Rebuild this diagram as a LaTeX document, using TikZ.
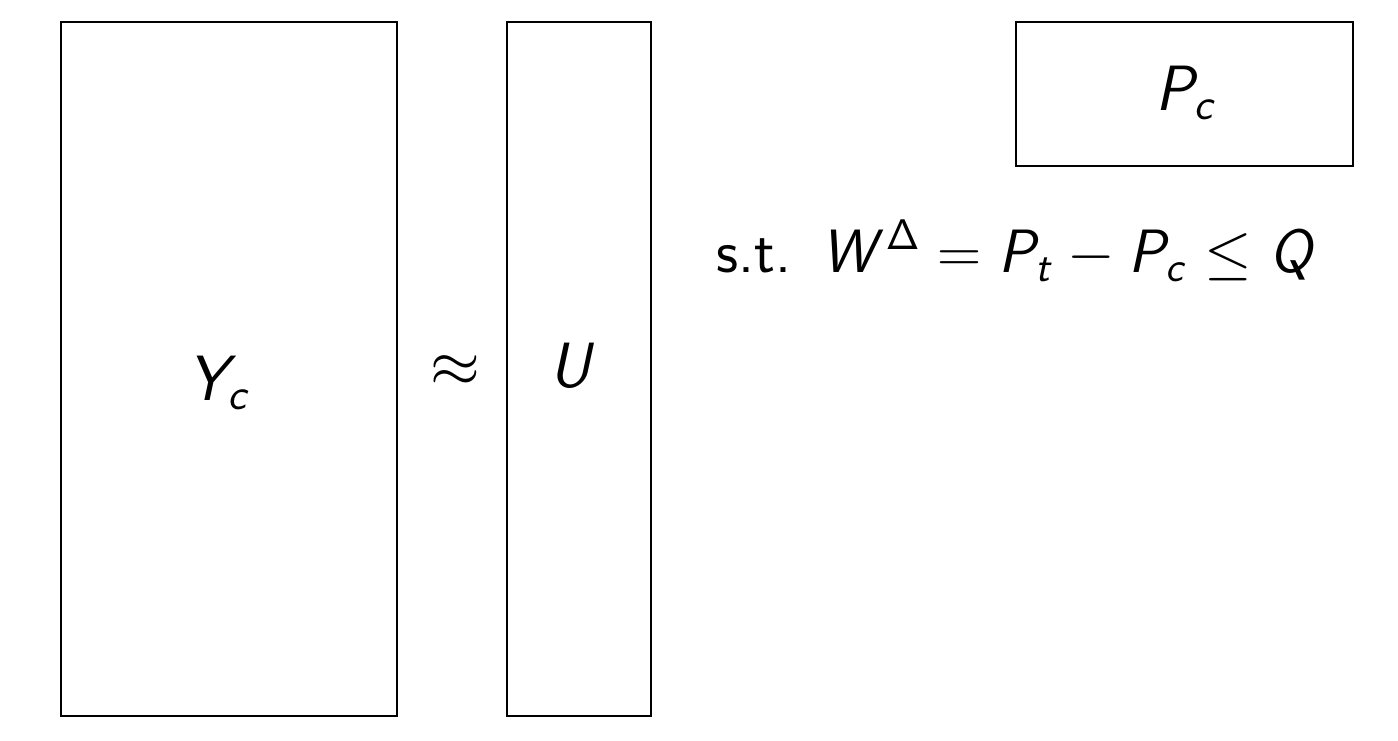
\RequirePackage{fix-cm}
\documentclass[tikz,border=0pt]{standalone}
\DeclareSymbolFont{sfletters}{OT1}{cmss}{m}{sl}
\DeclareSymbolFont{sfops}{OT1}{cmss}{m}{n}
\DeclareMathSymbol{Y}{\mathalpha}{sfletters}{`Y}
\DeclareMathSymbol{U}{\mathalpha}{sfletters}{`U}
\DeclareMathSymbol{P}{\mathalpha}{sfletters}{`P}
\DeclareMathSymbol{W}{\mathalpha}{sfletters}{`W}
\DeclareMathSymbol{Q}{\mathalpha}{sfletters}{`Q}
\DeclareMathSymbol{c}{\mathalpha}{sfletters}{`c}
\DeclareMathSymbol{t}{\mathalpha}{sfletters}{`t}
\DeclareMathSymbol{\Delta}{\mathalpha}{sfops}{"01}
\begin{document}
\begin{tikzpicture}[x=0.5pt,y=-0.5pt,
  mat/.style={draw,line width=1pt},
  big/.style={font=\fontsize{32}{38}\selectfont\sffamily,inner sep=0pt},
  mid/.style={font=\fontsize{30.6}{36}\selectfont\sffamily,inner sep=0pt}]
\useasboundingbox (0,0) rectangle (1398,740);
\node[mat,minimum width=168pt,minimum height=347pt] (Y) at (229,369) {};
\node[mat,minimum width=72pt,minimum height=347pt] (U) at (579,369) {};
\node[mat,minimum width=168.5pt,minimum height=72pt] (P) at (1184.5,94) {};
\node[big,anchor=base] (Ylbl) at (219,400) {$Y_c$};
\node[big,anchor=base] (Ulbl) at (573,387) {$U$};
\node[big,anchor=base] (Plbl) at (1186,110) {$P_c$};
\node[big] (approx) at (455,371) {$\approx$};
\node[mid,anchor=base west] (st) at (716,272) {s.t.\hspace{0.5em}$W^{\Delta}=P_t-P_c\leq Q$};
\end{tikzpicture}
\end{document}
